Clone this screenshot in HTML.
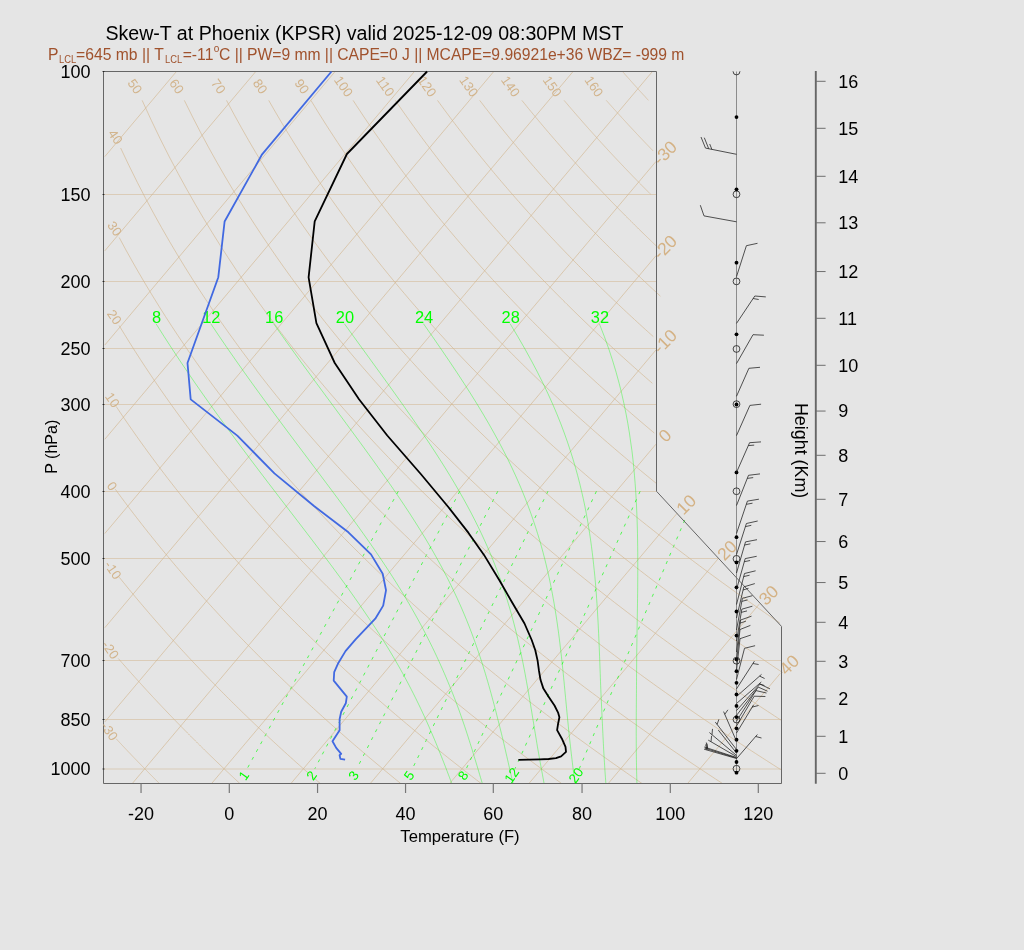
<!DOCTYPE html>
<html><head><meta charset="utf-8"><title>Skew-T</title>
<style>
html,body{margin:0;padding:0;background:#E5E5E5;}
body{width:1024px;height:950px;overflow:hidden;}
svg{display:block;font-family:"Liberation Sans",sans-serif;}
</style></head><body>
<svg width="1024" height="950" viewBox="0 0 1024 950">
<rect width="1024" height="950" fill="#E5E5E5"/>
<line x1="103.50" y1="783.50" x2="781.50" y2="783.50" stroke="#D2B48C" stroke-width="1" stroke-opacity="0.5"/>
<line x1="103.50" y1="769.00" x2="781.50" y2="769.00" stroke="#D2B48C" stroke-width="1" stroke-opacity="0.5"/>
<line x1="103.50" y1="719.50" x2="781.50" y2="719.50" stroke="#D2B48C" stroke-width="1" stroke-opacity="0.5"/>
<line x1="103.50" y1="660.50" x2="781.50" y2="660.50" stroke="#D2B48C" stroke-width="1" stroke-opacity="0.5"/>
<line x1="103.50" y1="558.50" x2="719.00" y2="558.50" stroke="#D2B48C" stroke-width="1" stroke-opacity="0.5"/>
<line x1="103.50" y1="491.50" x2="656.50" y2="491.50" stroke="#D2B48C" stroke-width="1" stroke-opacity="0.5"/>
<line x1="103.50" y1="404.50" x2="656.50" y2="404.50" stroke="#D2B48C" stroke-width="1" stroke-opacity="0.5"/>
<line x1="103.50" y1="348.50" x2="656.50" y2="348.50" stroke="#D2B48C" stroke-width="1" stroke-opacity="0.5"/>
<line x1="103.50" y1="281.50" x2="656.50" y2="281.50" stroke="#D2B48C" stroke-width="1" stroke-opacity="0.5"/>
<line x1="103.50" y1="194.50" x2="656.50" y2="194.50" stroke="#D2B48C" stroke-width="1" stroke-opacity="0.5"/>
<line x1="103.50" y1="71.50" x2="656.50" y2="71.50" stroke="#D2B48C" stroke-width="1" stroke-opacity="0.5"/>
<line x1="104.80" y1="156.62" x2="176.46" y2="71.50" stroke="#D2B48C" stroke-width="0.62" />
<line x1="104.80" y1="250.84" x2="255.79" y2="71.50" stroke="#D2B48C" stroke-width="0.62" />
<line x1="104.80" y1="345.06" x2="335.12" y2="71.50" stroke="#D2B48C" stroke-width="0.62" />
<line x1="104.80" y1="439.28" x2="414.44" y2="71.50" stroke="#D2B48C" stroke-width="0.62" />
<line x1="104.80" y1="533.50" x2="493.77" y2="71.50" stroke="#D2B48C" stroke-width="0.62" />
<line x1="104.80" y1="627.72" x2="573.09" y2="71.50" stroke="#D2B48C" stroke-width="0.62" />
<line x1="104.80" y1="721.94" x2="652.42" y2="71.50" stroke="#D2B48C" stroke-width="0.62" />
<line x1="132.30" y1="783.50" x2="655.97" y2="161.50" stroke="#D2B48C" stroke-width="0.62" />
<line x1="211.62" y1="783.50" x2="655.97" y2="255.72" stroke="#D2B48C" stroke-width="0.62" />
<line x1="290.95" y1="783.50" x2="655.97" y2="349.94" stroke="#D2B48C" stroke-width="0.62" />
<line x1="370.28" y1="783.50" x2="655.97" y2="444.16" stroke="#D2B48C" stroke-width="0.62" />
<line x1="449.60" y1="783.50" x2="677.20" y2="513.17" stroke="#D2B48C" stroke-width="0.62" />
<line x1="528.93" y1="783.50" x2="718.07" y2="558.84" stroke="#D2B48C" stroke-width="0.62" />
<line x1="608.25" y1="783.50" x2="759.56" y2="603.78" stroke="#D2B48C" stroke-width="0.62" />
<line x1="687.58" y1="783.50" x2="780.25" y2="673.43" stroke="#D2B48C" stroke-width="0.62" />
<line x1="684.72" y1="520.13" x2="579.27" y2="768.73" stroke="#00FF00" stroke-width="0.65" stroke-dasharray="3.1 5.8"/>
<line x1="640.13" y1="491.27" x2="514.99" y2="768.73" stroke="#00FF00" stroke-width="0.65" stroke-dasharray="3.1 5.8"/>
<line x1="596.43" y1="491.27" x2="466.27" y2="768.73" stroke="#00FF00" stroke-width="0.65" stroke-dasharray="3.1 5.8"/>
<line x1="547.93" y1="491.27" x2="412.37" y2="768.73" stroke="#00FF00" stroke-width="0.65" stroke-dasharray="3.1 5.8"/>
<line x1="497.78" y1="491.27" x2="356.80" y2="768.73" stroke="#00FF00" stroke-width="0.65" stroke-dasharray="3.1 5.8"/>
<line x1="459.79" y1="491.27" x2="314.83" y2="768.73" stroke="#00FF00" stroke-width="0.65" stroke-dasharray="3.1 5.8"/>
<line x1="398.29" y1="491.27" x2="247.14" y2="768.73" stroke="#00FF00" stroke-width="0.65" stroke-dasharray="3.1 5.8"/>
<polyline points="116.13,738.75 116.51,739.15 116.88,739.56 117.26,739.96 117.63,740.37 118.01,740.77 118.38,741.17 118.76,741.57 119.13,741.97 119.51,742.38 119.88,742.78 120.26,743.18 120.63,743.57 121.00,743.97 121.38,744.37 121.75,744.77 122.12,745.17 122.50,745.56 122.87,745.96 123.24,746.35 123.61,746.75 123.99,747.14 124.36,747.54 124.73,747.93 125.10,748.32 125.47,748.72 125.84,749.11 126.21,749.50 126.58,749.89 126.95,750.28 127.32,750.67 127.69,751.06 128.06,751.45 128.43,751.84 128.80,752.22 129.17,752.61 129.54,753.00 129.91,753.39 130.27,753.77 130.64,754.16 131.01,754.54 131.38,754.93 131.74,755.31 132.11,755.69 132.48,756.08 132.84,756.46 133.21,756.84 133.58,757.22 133.94,757.60 134.31,757.98 134.67,758.36 135.04,758.74 135.41,759.12 135.77,759.50 136.14,759.88 136.50,760.26 136.86,760.63 137.23,761.01 137.59,761.39 137.96,761.76 138.32,762.14 138.68,762.51 139.05,762.89 139.41,763.26 139.77,763.64 140.13,764.01 140.50,764.38 140.86,764.75 141.22,765.12 141.58,765.50 141.94,765.87 142.30,766.24 142.66,766.61 143.02,766.98 143.39,767.35 143.75,767.71 144.11,768.08 144.47,768.45 144.83,768.82 145.18,769.18 145.54,769.55 145.90,769.92 146.26,770.28 146.62,770.65 146.98,771.01 147.34,771.37 147.70,771.74 148.05,772.10 148.41,772.46 148.77,772.83 149.13,773.19 149.48,773.55 149.84,773.91 150.20,774.27 150.55,774.63 150.91,774.99 151.27,775.35 151.62,775.71 151.98,776.07 152.33,776.43 152.69,776.78 153.04,777.14 153.40,777.50 153.75,777.85 154.11,778.21 154.46,778.57 154.82,778.92 155.17,779.28 155.52,779.63 155.88,779.98 156.23,780.34 156.58,780.69 156.94,781.04 157.29,781.40 157.64,781.75 157.99,782.10 158.35,782.45 158.70,782.80 159.05,783.15 159.40,783.50" fill="none" stroke="#D2B48C" stroke-width="0.62" />
<polyline points="118.31,658.50 119.44,659.80 120.56,661.09 121.69,662.38 122.81,663.66 123.92,664.93 125.04,666.20 126.16,667.47 127.27,668.73 128.38,669.98 129.49,671.23 130.59,672.48 131.70,673.72 132.80,674.95 133.90,676.18 135.00,677.40 136.09,678.62 137.19,679.84 138.28,681.05 139.37,682.25 140.46,683.45 141.54,684.65 142.63,685.84 143.71,687.02 144.79,688.20 145.87,689.38 146.95,690.55 148.02,691.72 149.10,692.88 150.17,694.04 151.24,695.20 152.30,696.35 153.37,697.49 154.43,698.63 155.50,699.77 156.56,700.90 157.61,702.03 158.67,703.15 159.73,704.27 160.78,705.39 161.83,706.50 162.88,707.61 163.93,708.71 164.97,709.81 166.02,710.91 167.06,712.00 168.10,713.09 169.14,714.17 170.18,715.25 171.21,716.33 172.25,717.40 173.28,718.47 174.31,719.54 175.34,720.60 176.37,721.65 177.39,722.71 178.42,723.76 179.44,724.80 180.46,725.85 181.48,726.89 182.50,727.92 183.51,728.95 184.53,729.98 185.54,731.01 186.55,732.03 187.56,733.05 188.57,734.06 189.57,735.08 190.58,736.08 191.58,737.09 192.58,738.09 193.58,739.09 194.58,740.08 195.57,741.07 196.57,742.06 197.56,743.05 198.56,744.03 199.55,745.01 200.53,745.98 201.52,746.96 202.51,747.93 203.49,748.89 204.48,749.86 205.46,750.82 206.44,751.77 207.42,752.73 208.39,753.68 209.37,754.63 210.34,755.57 211.31,756.51 212.29,757.45 213.26,758.39 214.22,759.32 215.19,760.25 216.16,761.18 217.12,762.11 218.08,763.03 219.04,763.95 220.00,764.87 220.96,765.78 221.92,766.69 222.87,767.60 223.83,768.50 224.78,769.41 225.73,770.31 226.68,771.21 227.63,772.10 228.58,772.99 229.53,773.88 230.47,774.77 231.41,775.65 232.35,776.54 233.30,777.42 234.23,778.29 235.17,779.17 236.11,780.04 237.04,780.91 237.98,781.77 238.91,782.64 239.84,783.50" fill="none" stroke="#D2B48C" stroke-width="0.62" />
<polyline points="119.28,577.30 121.28,579.77 123.26,582.23 125.24,584.66 127.21,587.07 129.18,589.47 131.14,591.84 133.09,594.20 135.03,596.54 136.97,598.86 138.91,601.16 140.84,603.45 142.76,605.72 144.67,607.97 146.58,610.21 148.48,612.43 150.38,614.63 152.27,616.82 154.15,618.99 156.03,621.14 157.91,623.28 159.77,625.41 161.63,627.52 163.49,629.62 165.34,631.70 167.18,633.77 169.02,635.82 170.86,637.86 172.68,639.89 174.51,641.90 176.32,643.90 178.13,645.88 179.94,647.86 181.74,649.82 183.54,651.77 185.33,653.70 187.11,655.62 188.89,657.54 190.67,659.43 192.44,661.32 194.20,663.20 195.96,665.06 197.72,666.91 199.47,668.75 201.21,670.59 202.95,672.40 204.69,674.21 206.42,676.01 208.15,677.80 209.87,679.57 211.59,681.34 213.30,683.10 215.00,684.84 216.71,686.58 218.41,688.30 220.10,690.02 221.79,691.73 223.47,693.42 225.15,695.11 226.83,696.79 228.50,698.46 230.17,700.12 231.83,701.77 233.49,703.41 235.14,705.04 236.79,706.67 238.44,708.28 240.08,709.89 241.72,711.49 243.35,713.08 244.98,714.66 246.61,716.23 248.23,717.80 249.85,719.35 251.46,720.90 253.07,722.44 254.67,723.98 256.27,725.50 257.87,727.02 259.47,728.53 261.06,730.03 262.64,731.53 264.22,733.02 265.80,734.50 267.38,735.97 268.95,737.44 270.51,738.90 272.08,740.35 273.64,741.80 275.19,743.24 276.75,744.67 278.29,746.09 279.84,747.51 281.38,748.93 282.92,750.33 284.45,751.73 285.99,753.12 287.51,754.51 289.04,755.89 290.56,757.26 292.08,758.63 293.59,759.99 295.10,761.35 296.61,762.69 298.11,764.04 299.61,765.37 301.11,766.71 302.60,768.03 304.09,769.35 305.58,770.66 307.07,771.97 308.55,773.28 310.03,774.57 311.50,775.86 312.97,777.15 314.44,778.43 315.91,779.71 317.37,780.98 318.83,782.24 320.28,783.50" fill="none" stroke="#D2B48C" stroke-width="0.62" />
<polyline points="115.35,489.30 118.39,493.45 121.41,497.54 124.43,501.58 127.42,505.57 130.40,509.50 133.36,513.39 136.31,517.22 139.25,521.01 142.16,524.75 145.07,528.44 147.96,532.09 150.84,535.70 153.70,539.26 156.55,542.79 159.38,546.27 162.20,549.71 165.01,553.11 167.80,556.48 170.58,559.81 173.35,563.10 176.11,566.36 178.85,569.58 181.58,572.77 184.30,575.92 187.00,579.05 189.70,582.14 192.38,585.20 195.05,588.23 197.71,591.23 200.35,594.19 202.99,597.14 205.61,600.05 208.23,602.93 210.83,605.79 213.42,608.62 216.00,611.43 218.57,614.20 221.12,616.96 223.67,619.69 226.21,622.39 228.74,625.07 231.25,627.73 233.76,630.36 236.26,632.97 238.74,635.56 241.22,638.13 243.69,640.67 246.14,643.20 248.59,645.70 251.03,648.18 253.46,650.65 255.88,653.09 258.29,655.51 260.69,657.92 263.09,660.30 265.47,662.67 267.85,665.02 270.21,667.35 272.57,669.66 274.92,671.95 277.26,674.23 279.59,676.49 281.92,678.73 284.23,680.96 286.54,683.17 288.84,685.37 291.13,687.55 293.41,689.71 295.69,691.86 297.96,693.99 300.22,696.11 302.47,698.21 304.71,700.30 306.95,702.37 309.18,704.43 311.40,706.48 313.62,708.51 315.83,710.53 318.03,712.54 320.22,714.53 322.41,716.51 324.59,718.48 326.76,720.43 328.92,722.37 331.08,724.30 333.23,726.22 335.38,728.12 337.51,730.02 339.65,731.90 341.77,733.77 343.89,735.63 346.00,737.47 348.10,739.31 350.20,741.13 352.30,742.95 354.38,744.75 356.46,746.54 358.53,748.32 360.60,750.09 362.66,751.85 364.72,753.60 366.77,755.35 368.81,757.08 370.85,758.80 372.88,760.51 374.91,762.21 376.92,763.90 378.94,765.58 380.95,767.26 382.95,768.92 384.95,770.58 386.94,772.22 388.92,773.86 390.90,775.49 392.88,777.11 394.85,778.72 396.81,780.32 398.77,781.91 400.72,783.50" fill="none" stroke="#D2B48C" stroke-width="0.62" />
<polyline points="116.15,406.40 120.32,412.63 124.45,418.74 128.56,424.72 132.65,430.59 136.70,436.35 140.72,442.00 144.72,447.54 148.68,452.99 152.62,458.34 156.54,463.60 160.43,468.77 164.29,473.85 168.12,478.84 171.93,483.76 175.72,488.60 179.48,493.36 183.22,498.05 186.93,502.66 190.62,507.21 194.29,511.69 197.94,516.10 201.56,520.46 205.16,524.74 208.74,528.97 212.30,533.15 215.83,537.26 219.35,541.32 222.85,545.32 226.32,549.28 229.78,553.18 233.22,557.03 236.63,560.84 240.03,564.59 243.41,568.31 246.77,571.97 250.11,575.59 253.44,579.17 256.74,582.71 260.03,586.21 263.31,589.66 266.56,593.08 269.80,596.46 273.02,599.80 276.23,603.11 279.41,606.38 282.59,609.62 285.74,612.82 288.89,615.98 292.01,619.12 295.12,622.22 298.22,625.29 301.30,628.33 304.37,631.34 307.42,634.32 310.46,637.27 313.48,640.20 316.49,643.09 319.49,645.96 322.47,648.80 325.44,651.62 328.39,654.40 331.34,657.17 334.26,659.90 337.18,662.62 340.08,665.31 342.98,667.97 345.85,670.61 348.72,673.23 351.57,675.83 354.42,678.41 357.25,680.96 360.06,683.49 362.87,686.00 365.67,688.49 368.45,690.96 371.22,693.41 373.98,695.84 376.73,698.25 379.47,700.65 382.20,703.02 384.92,705.37 387.63,707.71 390.32,710.03 393.01,712.33 395.68,714.61 398.35,716.88 401.00,719.13 403.65,721.36 406.29,723.58 408.91,725.78 411.53,727.96 414.13,730.13 416.73,732.29 419.32,734.43 421.90,736.55 424.46,738.66 427.02,740.75 429.57,742.83 432.12,744.90 434.65,746.95 437.17,748.99 439.69,751.01 442.19,753.02 444.69,755.02 447.18,757.00 449.66,758.98 452.13,760.93 454.59,762.88 457.05,764.81 459.50,766.74 461.94,768.64 464.37,770.54 466.79,772.43 469.21,774.30 471.61,776.16 474.01,778.01 476.40,779.85 478.79,781.68 481.16,783.50" fill="none" stroke="#D2B48C" stroke-width="0.62" />
<polyline points="119.10,325.50 124.51,334.37 129.86,342.99 135.17,351.37 140.42,359.53 145.63,367.47 150.80,375.21 155.91,382.75 160.98,390.11 166.01,397.30 170.99,404.32 175.93,411.18 180.83,417.89 185.69,424.46 190.50,430.88 195.28,437.17 200.02,443.34 204.72,449.38 209.38,455.30 214.00,461.11 218.59,466.81 223.14,472.40 227.66,477.89 232.15,483.29 236.60,488.59 241.01,493.80 245.40,498.92 249.75,503.95 254.07,508.91 258.36,513.78 262.62,518.58 266.86,523.30 271.06,527.95 275.23,532.53 279.38,537.04 283.49,541.48 287.59,545.86 291.65,550.18 295.69,554.44 299.70,558.63 303.68,562.77 307.65,566.86 311.58,570.89 315.49,574.87 319.38,578.79 323.25,582.67 327.09,586.49 330.91,590.27 334.70,594.00 338.48,597.69 342.23,601.33 345.96,604.93 349.67,608.49 353.36,612.01 357.02,615.48 360.67,618.92 364.30,622.31 367.91,625.67 371.49,629.00 375.06,632.28 378.61,635.53 382.14,638.75 385.66,641.93 389.15,645.08 392.63,648.20 396.09,651.29 399.53,654.34 402.95,657.37 406.36,660.36 409.75,663.32 413.13,666.26 416.48,669.17 419.82,672.05 423.15,674.90 426.46,677.73 429.75,680.53 433.03,683.30 436.29,686.05 439.54,688.78 442.78,691.48 445.99,694.15 449.20,696.81 452.39,699.44 455.56,702.04 458.73,704.63 461.87,707.19 465.01,709.73 468.13,712.26 471.23,714.76 474.33,717.23 477.41,719.69 480.48,722.13 483.53,724.55 486.57,726.95 489.60,729.34 492.62,731.70 495.62,734.04 498.62,736.37 501.60,738.68 504.56,740.97 507.52,743.25 510.47,745.50 513.40,747.74 516.32,749.97 519.23,752.18 522.13,754.37 525.02,756.54 527.90,758.71 530.76,760.85 533.62,762.98 536.46,765.10 539.30,767.20 542.12,769.28 544.94,771.36 547.74,773.41 550.53,775.46 553.32,777.49 556.09,779.51 558.85,781.51 561.60,783.50" fill="none" stroke="#D2B48C" stroke-width="0.62" />
<polyline points="119.19,237.50 126.03,250.13 132.79,262.26 139.48,273.91 146.09,285.14 152.63,295.96 159.10,306.41 165.49,316.52 171.81,326.29 178.06,335.76 184.25,344.95 190.37,353.86 196.42,362.52 202.42,370.93 208.35,379.12 214.21,387.10 220.02,394.87 225.78,402.44 231.47,409.83 237.11,417.04 242.70,424.09 248.23,430.98 253.72,437.71 259.15,444.29 264.53,450.74 269.87,457.05 275.15,463.23 280.39,469.29 285.59,475.23 290.74,481.06 295.85,486.78 300.92,492.39 305.94,497.89 310.92,503.30 315.87,508.62 320.77,513.84 325.64,518.98 330.47,524.02 335.26,528.99 340.01,533.88 344.73,538.68 349.42,543.42 354.07,548.08 358.69,552.67 363.27,557.19 367.83,561.64 372.35,566.03 376.84,570.36 381.29,574.63 385.72,578.83 390.12,582.98 394.49,587.08 398.83,591.11 403.15,595.10 407.43,599.03 411.69,602.92 415.92,606.75 420.13,610.54 424.31,614.28 428.46,617.97 432.59,621.62 436.69,625.23 440.77,628.79 444.83,632.31 448.86,635.79 452.87,639.23 456.86,642.64 460.82,646.00 464.76,649.33 468.68,652.62 472.58,655.88 476.45,659.10 480.31,662.29 484.14,665.44 487.95,668.57 491.75,671.66 495.52,674.72 499.27,677.75 503.01,680.74 506.72,683.71 510.42,686.65 514.10,689.57 517.76,692.45 521.40,695.31 525.02,698.14 528.63,700.94 532.22,703.72 535.79,706.48 539.34,709.20 542.88,711.91 546.40,714.59 549.90,717.24 553.39,719.88 556.86,722.49 560.32,725.08 563.76,727.64 567.18,730.19 570.59,732.71 573.99,735.22 577.36,737.70 580.73,740.16 584.08,742.60 587.41,745.03 590.74,747.43 594.04,749.81 597.33,752.18 600.61,754.53 603.88,756.86 607.13,759.17 610.37,761.46 613.59,763.74 616.81,766.00 620.01,768.25 623.19,770.47 626.36,772.68 629.53,774.88 632.67,777.06 635.81,779.22 638.93,781.37 642.05,783.50" fill="none" stroke="#D2B48C" stroke-width="0.62" />
<polyline points="120.65,148.00 129.04,165.68 137.33,182.39 145.51,198.22 153.59,213.27 161.56,227.60 169.42,241.28 177.18,254.38 184.84,266.93 192.39,278.98 199.85,290.57 207.21,301.73 214.48,312.50 221.66,322.89 228.75,332.94 235.75,342.67 242.67,352.10 249.51,361.24 256.26,370.11 262.94,378.73 269.55,387.11 276.08,395.27 282.53,403.21 288.92,410.95 295.24,418.49 301.49,425.86 307.68,433.04 313.81,440.07 319.87,446.93 325.88,453.64 331.82,460.20 337.71,466.63 343.55,472.92 349.33,479.08 355.05,485.12 360.73,491.05 366.35,496.85 371.92,502.55 377.45,508.15 382.92,513.64 388.35,519.03 393.74,524.34 399.08,529.54 404.38,534.67 409.63,539.70 414.85,544.66 420.02,549.53 425.15,554.33 430.24,559.05 435.30,563.70 440.31,568.28 445.29,572.79 450.23,577.23 455.14,581.61 460.01,585.93 464.85,590.19 469.65,594.38 474.42,598.52 479.16,602.61 483.87,606.64 488.54,610.62 493.18,614.54 497.80,618.42 502.38,622.25 506.93,626.02 511.45,629.76 515.95,633.44 520.42,637.09 524.86,640.69 529.27,644.24 533.66,647.76 538.02,651.23 542.35,654.67 546.66,658.07 550.94,661.43 555.20,664.75 559.43,668.04 563.64,671.29 567.83,674.50 571.99,677.69 576.13,680.84 580.25,683.96 584.34,687.04 588.42,690.10 592.47,693.12 596.50,696.11 600.50,699.08 604.49,702.01 608.46,704.92 612.40,707.80 616.33,710.66 620.24,713.48 624.12,716.28 627.99,719.06 631.84,721.81 635.67,724.53 639.48,727.23 643.27,729.91 647.05,732.56 650.81,735.19 654.54,737.80 658.27,740.39 661.97,742.95 665.66,745.49 669.33,748.01 672.98,750.51 676.62,752.99 680.24,755.45 683.84,757.89 687.43,760.31 691.01,762.71 694.56,765.09 698.11,767.45 701.63,769.80 705.15,772.13 708.64,774.44 712.13,776.73 715.59,779.00 719.05,781.26 722.49,783.50" fill="none" stroke="#D2B48C" stroke-width="0.62" />
<polyline points="142.15,100.36 151.30,120.34 160.34,139.09 169.26,156.74 178.05,173.42 186.72,189.23 195.26,204.25 203.68,218.57 211.98,232.23 220.17,245.31 228.24,257.85 236.19,269.89 244.04,281.46 251.78,292.61 259.42,303.37 266.96,313.75 274.40,323.79 281.74,333.51 289.00,342.93 296.16,352.06 303.24,360.93 310.24,369.54 317.15,377.92 323.98,386.07 330.74,394.00 337.41,401.73 344.02,409.28 350.56,416.63 357.02,423.82 363.42,430.83 369.75,437.69 376.02,444.39 382.23,450.95 388.37,457.38 394.46,463.66 400.48,469.82 406.45,475.86 412.37,481.78 418.23,487.59 424.04,493.28 429.79,498.87 435.50,504.36 441.16,509.75 446.77,515.05 452.33,520.26 457.84,525.38 463.31,530.41 468.74,535.36 474.12,540.23 479.46,545.03 484.76,549.75 490.01,554.40 495.23,558.97 500.41,563.48 505.55,567.92 510.65,572.30 515.71,576.62 520.74,580.87 525.73,585.07 530.69,589.21 535.61,593.29 540.50,597.32 545.36,601.30 550.18,605.22 554.97,609.10 559.73,612.92 564.46,616.70 569.16,620.43 573.83,624.12 578.46,627.76 583.07,631.36 587.65,634.91 592.21,638.43 596.73,641.90 601.23,645.33 605.70,648.73 610.14,652.09 614.56,655.41 618.95,658.70 623.32,661.95 627.66,665.16 631.98,668.35 636.28,671.49 640.55,674.61 644.79,677.70 649.02,680.75 653.22,683.77 657.39,686.77 661.55,689.73 665.68,692.67 669.80,695.57 673.89,698.45 677.96,701.30 682.01,704.13 686.03,706.93 690.04,709.70 694.03,712.45 698.00,715.18 701.95,717.88 705.88,720.55 709.79,723.20 713.68,725.83 717.56,728.44 721.41,731.03 725.25,733.59 729.07,736.13 732.87,738.65 736.65,741.15 740.42,743.63 744.17,746.09 747.91,748.52 751.62,750.94 755.32,753.34 759.01,755.73 762.67,758.09 766.33,760.43 769.96,762.76 773.58,765.07 777.19,767.36 780.78,769.63" fill="none" stroke="#D2B48C" stroke-width="0.62" />
<polyline points="184.34,100.36 192.63,117.06 200.81,132.88 208.88,147.91 216.85,162.24 224.71,175.92 232.47,189.01 240.13,201.55 247.68,213.60 255.14,225.18 262.50,236.34 269.77,247.10 276.95,257.49 284.04,267.54 291.04,277.26 297.96,286.68 304.79,295.82 311.55,304.69 318.23,313.31 324.83,321.69 331.36,329.84 337.81,337.78 344.20,345.51 350.52,353.06 356.77,360.42 362.96,367.60 369.09,374.62 375.15,381.48 381.16,388.19 387.10,394.75 392.99,401.18 398.82,407.47 404.60,413.63 410.33,419.67 416.00,425.59 421.62,431.40 427.20,437.10 432.72,442.69 438.20,448.18 443.63,453.57 449.01,458.87 454.35,464.08 459.65,469.20 464.91,474.24 470.12,479.19 475.29,484.06 480.42,488.86 485.51,493.58 490.57,498.23 495.58,502.81 500.56,507.32 505.50,511.76 510.41,516.14 515.28,520.46 520.12,524.71 524.92,528.91 529.69,533.05 534.43,537.13 539.14,541.16 543.81,545.14 548.45,549.07 553.06,552.94 557.65,556.77 562.20,560.55 566.72,564.28 571.22,567.96 575.69,571.61 580.13,575.20 584.54,578.76 588.92,582.28 593.28,585.75 597.62,589.19 601.92,592.58 606.21,595.94 610.47,599.26 614.70,602.55 618.91,605.80 623.10,609.02 627.26,612.20 631.40,615.35 635.51,618.47 639.61,621.55 643.68,624.61 647.73,627.63 651.76,630.63 655.77,633.59 659.76,636.53 663.72,639.43 667.67,642.31 671.60,645.17 675.50,647.99 679.39,650.79 683.26,653.57 687.11,656.32 690.93,659.04 694.75,661.74 698.54,664.42 702.31,667.07 706.07,669.70 709.81,672.31 713.53,674.89 717.23,677.45 720.92,680.00 724.59,682.52 728.25,685.02 731.88,687.50 735.50,689.95 739.11,692.39 742.70,694.81 746.27,697.21 749.83,699.60 753.37,701.96 756.90,704.30 760.41,706.63 763.91,708.94 767.39,711.23 770.86,713.50 774.31,715.76 777.75,718.00 781.17,720.23" fill="none" stroke="#D2B48C" stroke-width="0.62" />
<polyline points="226.53,100.36 234.00,114.33 241.38,127.68 248.67,140.47 255.87,152.74 262.98,164.53 270.00,175.88 276.94,186.82 283.80,197.38 290.58,207.58 297.27,217.45 303.89,227.01 310.44,236.28 316.91,245.27 323.30,254.00 329.63,262.49 335.89,270.74 342.08,278.78 348.21,286.61 354.27,294.24 360.27,301.68 366.22,308.95 372.10,316.04 377.92,322.98 383.69,329.75 389.40,336.38 395.06,342.87 400.67,349.22 406.22,355.44 411.73,361.53 417.18,367.51 422.59,373.37 427.95,379.12 433.27,384.76 438.54,390.29 443.77,395.73 448.95,401.08 454.09,406.33 459.19,411.49 464.25,416.56 469.27,421.55 474.25,426.46 479.19,431.29 484.10,436.04 488.97,440.73 493.80,445.34 498.60,449.88 503.36,454.35 508.09,458.76 512.79,463.11 517.45,467.39 522.08,471.61 526.68,475.78 531.25,479.89 535.78,483.94 540.29,487.95 544.77,491.89 549.22,495.79 553.64,499.64 558.03,503.44 562.39,507.19 566.73,510.90 571.04,514.56 575.32,518.18 579.58,521.76 583.81,525.29 588.02,528.79 592.20,532.24 596.36,535.65 600.50,539.03 604.61,542.37 608.69,545.67 612.76,548.94 616.80,552.17 620.82,555.37 624.82,558.53 628.79,561.67 632.74,564.77 636.68,567.84 640.59,570.87 644.48,573.88 648.35,576.86 652.20,579.81 656.03,582.73 659.85,585.62 663.64,588.49 667.41,591.32 671.17,594.14 674.90,596.92 678.62,599.68 682.32,602.42 686.01,605.13 689.67,607.82 693.32,610.48 696.95,613.12 700.56,615.74 704.16,618.33 707.74,620.91 711.30,623.46 714.85,625.99 718.38,628.50 721.90,630.99 725.40,633.45 728.88,635.90 732.35,638.33 735.81,640.74 739.25,643.13 742.67,645.50 746.08,647.86 749.48,650.19 752.86,652.51 756.23,654.81 759.58,657.09 762.92,659.35 766.24,661.60 769.56,663.83 772.85,666.05 776.14,668.25 779.41,670.43 782.67,672.60" fill="none" stroke="#D2B48C" stroke-width="0.62" />
<polyline points="268.73,100.36 275.34,111.89 281.87,122.99 288.33,133.71 294.72,144.05 301.04,154.06 307.30,163.74 313.48,173.13 319.60,182.23 325.65,191.07 331.64,199.66 337.57,208.01 343.44,216.13 349.25,224.04 355.00,231.76 360.69,239.28 366.33,246.61 371.91,253.78 377.44,260.78 382.92,267.62 388.35,274.31 393.73,280.85 399.06,287.26 404.35,293.53 409.58,299.68 414.78,305.70 419.92,311.61 425.03,317.40 430.09,323.09 435.11,328.67 440.09,334.14 445.03,339.53 449.93,344.81 454.79,350.01 459.61,355.12 464.40,360.14 469.15,365.09 473.86,369.95 478.54,374.74 483.19,379.45 487.80,384.09 492.38,388.66 496.92,393.16 501.44,397.59 505.92,401.97 510.37,406.27 514.79,410.52 519.19,414.71 523.55,418.85 527.88,422.92 532.19,426.95 536.47,430.92 540.72,434.84 544.94,438.70 549.14,442.52 553.31,446.30 557.46,450.02 561.58,453.70 565.68,457.34 569.75,460.93 573.80,464.49 577.82,468.00 581.82,471.46 585.80,474.90 589.76,478.29 593.69,481.64 597.60,484.96 601.49,488.24 605.36,491.49 609.20,494.70 613.03,497.88 616.83,501.02 620.62,504.14 624.39,507.22 628.13,510.27 631.86,513.29 635.56,516.28 639.25,519.24 642.92,522.17 646.57,525.08 650.21,527.95 653.82,530.80 657.42,533.63 661.00,536.42 664.56,539.19 668.11,541.94 671.63,544.66 675.15,547.36 678.64,550.03 682.12,552.68 685.58,555.31 689.03,557.91 692.46,560.49 695.88,563.06 699.28,565.59 702.67,568.11 706.04,570.61 709.39,573.09 712.73,575.54 716.06,577.98 719.37,580.40 722.67,582.79 725.96,585.17 729.23,587.53 732.48,589.88 735.73,592.20 738.96,594.51 742.17,596.80 745.38,599.07 748.57,601.32 751.74,603.56 754.91,605.78 758.06,607.99 761.20,610.18 764.33,612.35 767.44,614.51 770.55,616.66 773.64,618.79 776.72,620.90 779.78,623.00" fill="none" stroke="#D2B48C" stroke-width="0.62" />
<polyline points="310.92,100.36 314.83,106.77 318.71,113.04 322.57,119.19 326.40,125.22 330.20,131.13 333.98,136.92 337.73,142.61 341.46,148.19 345.17,153.67 348.85,159.06 352.51,164.34 356.15,169.54 359.76,174.65 363.35,179.68 366.92,184.62 370.46,189.49 373.98,194.28 377.49,198.99 380.97,203.63 384.43,208.20 387.87,212.70 391.29,217.14 394.69,221.51 398.07,225.82 401.43,230.07 404.77,234.26 408.09,238.40 411.39,242.48 414.68,246.50 417.95,250.47 421.20,254.39 424.43,258.26 427.64,262.08 430.84,265.85 434.02,269.58 437.18,273.26 440.33,276.90 443.46,280.49 446.57,284.05 449.67,287.56 452.75,291.03 455.82,294.46 458.87,297.85 461.90,301.21 464.93,304.52 467.93,307.81 470.92,311.05 473.90,314.27 476.86,317.45 479.81,320.59 482.75,323.71 485.67,326.79 488.58,329.84 491.47,332.86 494.35,335.85 497.22,338.81 500.07,341.74 502.92,344.65 505.75,347.53 508.56,350.38 511.37,353.20 514.16,356.00 516.94,358.77 519.71,361.51 522.46,364.24 525.21,366.93 527.94,369.61 530.66,372.26 533.37,374.89 536.07,377.49 538.76,380.07 541.43,382.63 544.10,385.17 546.75,387.69 549.40,390.19 552.03,392.67 554.66,395.12 557.27,397.56 559.87,399.98 562.46,402.38 565.05,404.75 567.62,407.12 570.18,409.46 572.73,411.78 575.28,414.09 577.81,416.38 580.34,418.65 582.85,420.91 585.36,423.15 587.85,425.37 590.34,427.58 592.82,429.77 595.29,431.94 597.75,434.10 600.20,436.24 602.64,438.37 605.08,440.49 607.50,442.58 609.92,444.67 612.33,446.74 614.73,448.80 617.12,450.84 619.51,452.87 621.88,454.88 624.25,456.88 626.61,458.87 628.96,460.85 631.31,462.81 633.64,464.76 635.97,466.70 638.29,468.63 640.61,470.54 642.92,472.44 645.21,474.33 647.51,476.21 649.79,478.07 652.07,479.93 654.34,481.77 656.60,483.61" fill="none" stroke="#D2B48C" stroke-width="0.62" />
<polyline points="353.12,100.36 356.39,105.41 359.65,110.37 362.88,115.25 366.10,120.06 369.30,124.79 372.49,129.45 375.65,134.04 378.80,138.56 381.93,143.01 385.04,147.40 388.14,151.73 391.22,155.99 394.29,160.20 397.33,164.34 400.37,168.44 403.38,172.47 406.38,176.46 409.37,180.39 412.34,184.27 415.29,188.11 418.23,191.89 421.15,195.63 424.06,199.32 426.96,202.97 429.84,206.58 432.71,210.14 435.56,213.66 438.40,217.14 441.23,220.58 444.04,223.98 446.84,227.35 449.63,230.67 452.40,233.97 455.16,237.22 457.91,240.44 460.64,243.63 463.37,246.78 466.08,249.91 468.78,253.00 471.46,256.05 474.14,259.08 476.80,262.08 479.45,265.05 482.09,267.99 484.72,270.90 487.33,273.78 489.94,276.64 492.54,279.47 495.12,282.28 497.69,285.05 500.26,287.81 502.81,290.53 505.35,293.24 507.88,295.92 510.40,298.57 512.91,301.21 515.41,303.82 517.90,306.41 520.39,308.97 522.86,311.52 525.32,314.04 527.77,316.54 530.21,319.02 532.65,321.49 535.07,323.93 537.49,326.35 539.89,328.75 542.29,331.14 544.68,333.50 547.06,335.85 549.43,338.18 551.79,340.49 554.14,342.78 556.49,345.06 558.82,347.32 561.15,349.56 563.47,351.79 565.78,354.00 568.09,356.20 570.38,358.37 572.67,360.54 574.95,362.68 577.22,364.82 579.48,366.93 581.74,369.04 583.99,371.13 586.23,373.20 588.46,375.26 590.69,377.30 592.91,379.34 595.12,381.36 597.32,383.36 599.52,385.35 601.71,387.33 603.89,389.30 606.07,391.25 608.23,393.19 610.40,395.12 612.55,397.04 614.70,398.94 616.84,400.84 618.97,402.72 621.10,404.59 623.22,406.44 625.34,408.29 627.45,410.12 629.55,411.95 631.64,413.76 633.73,415.56 635.82,417.36 637.89,419.14 639.96,420.91 642.03,422.67 644.09,424.42 646.14,426.16 648.19,427.89 650.23,429.61 652.26,431.32 654.29,433.02" fill="none" stroke="#D2B48C" stroke-width="0.62" />
<polyline points="395.31,100.36 398.00,104.27 400.67,108.12 403.34,111.93 405.99,115.70 408.63,119.41 411.25,123.08 413.87,126.71 416.47,130.29 419.06,133.83 421.64,137.33 424.20,140.79 426.76,144.22 429.31,147.60 431.84,150.94 434.36,154.25 436.87,157.53 439.37,160.77 441.86,163.97 444.34,167.14 446.81,170.28 449.27,173.38 451.72,176.46 454.16,179.50 456.59,182.51 459.01,185.50 461.41,188.45 463.81,191.38 466.20,194.28 468.58,197.15 470.95,199.99 473.31,202.81 475.66,205.60 478.00,208.36 480.34,211.10 482.66,213.82 484.97,216.51 487.28,219.18 489.58,221.82 491.86,224.44 494.14,227.04 496.41,229.62 498.68,232.18 500.93,234.71 503.18,237.22 505.41,239.71 507.64,242.19 509.87,244.64 512.08,247.07 514.28,249.48 516.48,251.88 518.67,254.25 520.85,256.61 523.03,258.95 525.19,261.27 527.35,263.57 529.50,265.85 531.65,268.12 533.79,270.37 535.91,272.61 538.04,274.83 540.15,277.03 542.26,279.22 544.36,281.39 546.46,283.54 548.54,285.68 550.62,287.81 552.70,289.92 554.76,292.01 556.82,294.09 558.88,296.16 560.92,298.21 562.96,300.25 565.00,302.28 567.02,304.29 569.05,306.29 571.06,308.27 573.07,310.25 575.07,312.21 577.07,314.15 579.06,316.09 581.04,318.01 583.02,319.92 584.99,321.82 586.96,323.71 588.92,325.58 590.87,327.44 592.82,329.30 594.76,331.14 596.70,332.97 598.63,334.79 600.55,336.59 602.47,338.39 604.39,340.18 606.30,341.95 608.20,343.72 610.10,345.47 611.99,347.22 613.88,348.95 615.76,350.68 617.64,352.40 619.51,354.10 621.37,355.80 623.24,357.48 625.09,359.16 626.94,360.83 628.79,362.49 630.63,364.14 632.46,365.78 634.30,367.41 636.12,369.04 637.94,370.65 639.76,372.26 641.57,373.86 643.38,375.45 645.18,377.03 646.98,378.60 648.77,380.16 650.56,381.72 652.34,383.27" fill="none" stroke="#D2B48C" stroke-width="0.62" />
<polyline points="437.51,100.36 439.68,103.35 441.85,106.32 444.01,109.25 446.16,112.16 448.30,115.03 450.44,117.89 452.57,120.71 454.69,123.51 456.80,126.28 458.90,129.03 461.00,131.75 463.09,134.45 465.17,137.13 467.25,139.78 469.31,142.41 471.37,145.01 473.42,147.60 475.47,150.16 477.51,152.70 479.54,155.22 481.56,157.72 483.58,160.20 485.59,162.65 487.60,165.09 489.59,167.51 491.58,169.91 493.57,172.29 495.54,174.65 497.51,177.00 499.48,179.32 501.43,181.63 503.39,183.92 505.33,186.20 507.27,188.45 509.20,190.69 511.13,192.92 513.05,195.12 514.96,197.31 516.87,199.49 518.77,201.65 520.67,203.79 522.56,205.92 524.44,208.04 526.32,210.14 528.19,212.22 530.06,214.29 531.92,216.35 533.77,218.40 535.62,220.42 537.47,222.44 539.31,224.44 541.14,226.43 542.97,228.41 544.79,230.37 546.61,232.32 548.42,234.26 550.22,236.19 552.02,238.10 553.82,240.01 555.61,241.90 557.40,243.77 559.18,245.64 560.95,247.50 562.72,249.34 564.49,251.17 566.25,253.00 568.01,254.81 569.76,256.61 571.50,258.40 573.24,260.18 574.98,261.95 576.71,263.70 578.44,265.45 580.16,267.19 581.88,268.92 583.59,270.64 585.30,272.35 587.01,274.05 588.70,275.74 590.40,277.42 592.09,279.09 593.78,280.75 595.46,282.40 597.14,284.05 598.81,285.68 600.48,287.31 602.14,288.93 603.80,290.53 605.46,292.13 607.11,293.73 608.76,295.31 610.40,296.89 612.04,298.45 613.67,300.01 615.31,301.56 616.93,303.11 618.56,304.64 620.17,306.17 621.79,307.69 623.40,309.20 625.01,310.71 626.61,312.21 628.21,313.70 629.81,315.18 631.40,316.65 632.99,318.12 634.57,319.58 636.15,321.04 637.73,322.49 639.30,323.93 640.87,325.36 642.44,326.79 644.00,328.21 645.56,329.62 647.11,331.03 648.66,332.43 650.21,333.82 651.75,335.21 653.30,336.59" fill="none" stroke="#D2B48C" stroke-width="0.62" />
<polyline points="479.70,100.36 481.47,102.66 483.23,104.95 484.98,107.22 486.73,109.47 488.48,111.71 490.22,113.93 491.95,116.13 493.68,118.32 495.41,120.49 497.13,122.65 498.84,124.79 500.55,126.92 502.26,129.03 503.96,131.13 505.65,133.21 507.34,135.28 509.02,137.33 510.70,139.37 512.38,141.40 514.05,143.41 515.72,145.41 517.38,147.40 519.04,149.37 520.69,151.34 522.34,153.28 523.98,155.22 525.62,157.14 527.25,159.06 528.88,160.96 530.51,162.84 532.13,164.72 533.74,166.58 535.36,168.44 536.96,170.28 538.57,172.11 540.17,173.93 541.76,175.74 543.35,177.54 544.94,179.32 546.52,181.10 548.10,182.87 549.67,184.62 551.24,186.37 552.81,188.11 554.37,189.83 555.93,191.55 557.49,193.26 559.04,194.95 560.58,196.64 562.13,198.32 563.67,199.99 565.20,201.65 566.73,203.30 568.26,204.94 569.78,206.58 571.30,208.20 572.82,209.82 574.33,211.42 575.84,213.02 577.35,214.61 578.85,216.19 580.35,217.77 581.84,219.33 583.33,220.89 584.82,222.44 586.30,223.98 587.78,225.52 589.26,227.04 590.73,228.56 592.20,230.07 593.67,231.58 595.13,233.07 596.59,234.56 598.05,236.04 599.50,237.52 600.95,238.98 602.40,240.44 603.84,241.90 605.28,243.34 606.72,244.78 608.15,246.21 609.58,247.64 611.01,249.06 612.43,250.47 613.85,251.88 615.27,253.28 616.69,254.67 618.10,256.05 619.51,257.44 620.91,258.81 622.31,260.18 623.71,261.54 625.11,262.89 626.50,264.24 627.89,265.59 629.28,266.92 630.66,268.26 632.05,269.58 633.42,270.90 634.80,272.22 636.17,273.52 637.54,274.83 638.91,276.12 640.27,277.42 641.64,278.70 642.99,279.98 644.35,281.26 645.70,282.53 647.05,283.79 648.40,285.05 649.75,286.31 651.09,287.56 652.43,288.80 653.76,290.04 655.10,291.27 656.43,292.50 657.76,293.73 659.08,294.95 660.41,296.16" fill="none" stroke="#D2B48C" stroke-width="0.62" />
<polyline points="521.89,100.36 523.20,101.98 524.49,103.58 525.79,105.18 527.08,106.77 528.37,108.35 529.66,109.92 530.94,111.49 532.23,113.04 533.51,114.59 534.78,116.13 536.05,117.67 537.33,119.19 538.59,120.71 539.86,122.22 541.12,123.72 542.38,125.22 543.64,126.71 544.89,128.19 546.14,129.66 547.39,131.13 548.64,132.59 549.88,134.04 551.13,135.48 552.37,136.92 553.60,138.35 554.84,139.78 556.07,141.20 557.30,142.61 558.52,144.01 559.75,145.41 560.97,146.81 562.19,148.19 563.40,149.57 564.62,150.94 565.83,152.31 567.04,153.67 568.24,155.03 569.45,156.38 570.65,157.72 571.85,159.06 573.05,160.39 574.24,161.71 575.44,163.03 576.63,164.34 577.81,165.65 579.00,166.96 580.18,168.25 581.36,169.54 582.54,170.83 583.72,172.11 584.89,173.38 586.07,174.65 587.24,175.92 588.40,177.18 589.57,178.43 590.73,179.68 591.89,180.92 593.05,182.16 594.21,183.40 595.36,184.62 596.52,185.85 597.67,187.07 598.82,188.28 599.96,189.49 601.11,190.69 602.25,191.89 603.39,193.09 604.53,194.28 605.66,195.46 606.79,196.64 607.93,197.82 609.06,198.99 610.18,200.16 611.31,201.32 612.43,202.48 613.55,203.63 614.67,204.78 615.79,205.92 616.91,207.06 618.02,208.20 619.13,209.33 620.24,210.46 621.35,211.58 622.46,212.70 623.56,213.82 624.66,214.93 625.76,216.04 626.86,217.14 627.96,218.24 629.05,219.33 630.14,220.42 631.24,221.51 632.32,222.60 633.41,223.67 634.50,224.75 635.58,225.82 636.66,226.89 637.74,227.95 638.82,229.02 639.90,230.07 640.97,231.13 642.04,232.18 643.11,233.22 644.18,234.26 645.25,235.30 646.32,236.34 647.38,237.37 648.44,238.40 649.50,239.42 650.56,240.44 651.62,241.46 652.67,242.48 653.73,243.49 654.78,244.49 655.83,245.50 656.88,246.50 657.92,247.50 658.97,248.49 660.01,249.48" fill="none" stroke="#D2B48C" stroke-width="0.62" />
<polyline points="564.09,100.36 564.87,101.28 565.65,102.21 566.43,103.12 567.21,104.04 567.98,104.95 568.76,105.86 569.53,106.77 570.31,107.67 571.08,108.58 571.85,109.47 572.62,110.37 573.39,111.26 574.16,112.16 574.93,113.04 575.70,113.93 576.46,114.81 577.23,115.70 577.99,116.57 578.75,117.45 579.52,118.32 580.28,119.19 581.04,120.06 581.80,120.93 582.55,121.79 583.31,122.65 584.07,123.51 584.82,124.37 585.58,125.22 586.33,126.07 587.08,126.92 587.83,127.77 588.59,128.61 589.34,129.45 590.08,130.29 590.83,131.13 591.58,131.96 592.33,132.79 593.07,133.63 593.81,134.45 594.56,135.28 595.30,136.10 596.04,136.92 596.78,137.74 597.52,138.56 598.26,139.37 599.00,140.19 599.74,141.00 600.47,141.80 601.21,142.61 601.94,143.41 602.68,144.22 603.41,145.01 604.14,145.81 604.87,146.61 605.60,147.40 606.33,148.19 607.06,148.98 607.79,149.77 608.51,150.55 609.24,151.34 609.96,152.12 610.69,152.90 611.41,153.67 612.13,154.45 612.85,155.22 613.58,155.99 614.30,156.76 615.01,157.53 615.73,158.29 616.45,159.06 617.17,159.82 617.88,160.58 618.60,161.33 619.31,162.09 620.02,162.84 620.74,163.59 621.45,164.34 622.16,165.09 622.87,165.84 623.58,166.58 624.29,167.33 624.99,168.07 625.70,168.81 626.41,169.54 627.11,170.28 627.82,171.01 628.52,171.74 629.22,172.47 629.93,173.20 630.63,173.93 631.33,174.65 632.03,175.38 632.73,176.10 633.42,176.82 634.12,177.54 634.82,178.25 635.51,178.97 636.21,179.68 636.90,180.39 637.60,181.10 638.29,181.81 638.98,182.51 639.67,183.22 640.36,183.92 641.05,184.62 641.74,185.32 642.43,186.02 643.12,186.72 643.81,187.41 644.49,188.11 645.18,188.80 645.86,189.49 646.55,190.18 647.23,190.86 647.91,191.55 648.59,192.23 649.27,192.92 649.95,193.60 650.63,194.28" fill="none" stroke="#D2B48C" stroke-width="0.62" />
<polyline points="606.28,100.36 606.69,100.82 607.10,101.28 607.51,101.74 607.92,102.21 608.33,102.66 608.73,103.12 609.14,103.58 609.55,104.04 609.95,104.50 610.36,104.95 610.77,105.41 611.17,105.86 611.58,106.32 611.98,106.77 612.39,107.22 612.79,107.67 613.20,108.12 613.60,108.58 614.01,109.03 614.41,109.47 614.81,109.92 615.22,110.37 615.62,110.82 616.02,111.26 616.43,111.71 616.83,112.16 617.23,112.60 617.63,113.04 618.03,113.49 618.43,113.93 618.84,114.37 619.24,114.81 619.64,115.25 620.04,115.70 620.44,116.13 620.84,116.57 621.24,117.01 621.63,117.45 622.03,117.89 622.43,118.32 622.83,118.76 623.23,119.19 623.63,119.63 624.02,120.06 624.42,120.49 624.82,120.93 625.21,121.36 625.61,121.79 626.01,122.22 626.40,122.65 626.80,123.08 627.19,123.51 627.59,123.94 627.98,124.37 628.38,124.79 628.77,125.22 629.17,125.65 629.56,126.07 629.96,126.50 630.35,126.92 630.74,127.34 631.14,127.77 631.53,128.19 631.92,128.61 632.31,129.03 632.71,129.45 633.10,129.87 633.49,130.29 633.88,130.71 634.27,131.13 634.66,131.55 635.05,131.96 635.44,132.38 635.83,132.79 636.22,133.21 636.61,133.63 637.00,134.04 637.39,134.45 637.78,134.87 638.17,135.28 638.56,135.69 638.94,136.10 639.33,136.51 639.72,136.92 640.11,137.33 640.49,137.74 640.88,138.15 641.27,138.56 641.65,138.97 642.04,139.37 642.43,139.78 642.81,140.19 643.20,140.59 643.58,141.00 643.97,141.40 644.35,141.80 644.74,142.21 645.12,142.61 645.50,143.01 645.89,143.41 646.27,143.81 646.65,144.22 647.04,144.62 647.42,145.01 647.80,145.41 648.19,145.81 648.57,146.21 648.95,146.61 649.33,147.00 649.71,147.40 650.09,147.80 650.47,148.19 650.86,148.59 651.24,148.98 651.62,149.37 652.00,149.77 652.38,150.16 652.76,150.55 653.13,150.94" fill="none" stroke="#D2B48C" stroke-width="0.62" />
<polyline points="622.49,71.50 622.72,71.75 622.94,72.01 623.16,72.26 623.39,72.52 623.61,72.77 623.83,73.02 624.05,73.28 624.28,73.53 624.50,73.78 624.72,74.03 624.94,74.29 625.17,74.54 625.39,74.79 625.61,75.04 625.83,75.29 626.05,75.54 626.27,75.80 626.50,76.05 626.72,76.30 626.94,76.55 627.16,76.80 627.38,77.05 627.60,77.30 627.82,77.55 628.05,77.80 628.27,78.04 628.49,78.29 628.71,78.54 628.93,78.79 629.15,79.04 629.37,79.29 629.59,79.54 629.81,79.78 630.03,80.03 630.25,80.28 630.47,80.52 630.69,80.77 630.91,81.02 631.13,81.26 631.35,81.51 631.57,81.76 631.79,82.00 632.01,82.25 632.23,82.49 632.45,82.74 632.67,82.98 632.89,83.23 633.11,83.47 633.33,83.72 633.55,83.96 633.77,84.21 633.98,84.45 634.20,84.69 634.42,84.94 634.64,85.18 634.86,85.42 635.08,85.67 635.30,85.91 635.51,86.15 635.73,86.39 635.95,86.64 636.17,86.88 636.39,87.12 636.61,87.36 636.82,87.60 637.04,87.84 637.26,88.09 637.48,88.33 637.69,88.57 637.91,88.81 638.13,89.05 638.35,89.29 638.56,89.53 638.78,89.77 639.00,90.01 639.22,90.25 639.43,90.49 639.65,90.72 639.87,90.96 640.08,91.20 640.30,91.44 640.52,91.68 640.73,91.92 640.95,92.15 641.17,92.39 641.38,92.63 641.60,92.87 641.81,93.10 642.03,93.34 642.25,93.58 642.46,93.81 642.68,94.05 642.89,94.29 643.11,94.52 643.33,94.76 643.54,94.99 643.76,95.23 643.97,95.46 644.19,95.70 644.40,95.93 644.62,96.17 644.83,96.40 645.05,96.64 645.26,96.87 645.48,97.10 645.69,97.34 645.91,97.57 646.12,97.80 646.34,98.04 646.55,98.27 646.76,98.50 646.98,98.74 647.19,98.97 647.41,99.20 647.62,99.43 647.84,99.67 648.05,99.90 648.26,100.13 648.48,100.36" fill="none" stroke="#D2B48C" stroke-width="0.62" />
<polyline points="636.94,783.50 636.85,780.60 636.77,777.68 636.69,774.72 636.62,771.74 636.56,768.73 636.50,765.68 636.45,762.61 636.40,759.50 636.36,756.37 636.32,753.19 636.29,749.99 636.28,746.75 636.26,743.48 636.25,740.17 636.24,736.82 636.23,733.44 636.23,730.02 636.24,726.56 636.25,723.06 636.26,719.52 636.28,715.93 636.29,712.31 636.32,708.64 636.34,704.92 636.37,701.16 636.40,697.35 636.43,693.49 636.46,689.58 636.49,685.63 636.52,681.62 636.54,677.55 636.57,673.43 636.63,669.25 636.66,665.02 636.68,660.72 636.70,656.37 636.75,651.95 636.81,647.46 636.88,642.91 636.94,638.28 637.02,633.59 637.09,628.82 637.17,623.98 637.25,619.05 637.33,614.05 637.41,608.96 637.49,603.78 637.56,598.52 637.63,593.16 637.70,587.70 637.72,582.14 637.75,576.48 637.78,570.72 637.78,564.84 637.77,558.84 637.74,552.72 637.68,546.48 637.59,540.10 637.47,533.59 637.30,526.94 637.10,520.13 636.84,513.17 636.52,506.05 636.14,498.75 635.69,491.27 635.15,483.61 634.51,475.74 633.77,467.67 632.95,459.37 631.96,450.84 630.68,442.06 629.41,433.02 627.87,423.70 626.10,414.09 624.08,404.16 621.77,393.90 619.13,383.27 616.12,372.26 612.68,360.83 608.80,348.95 604.37,336.59 599.35,323.71" fill="none" stroke="#00FF00" stroke-width="0.36" />
<text x="599.95" y="323.21" fill="#00FF00" font-size="16.4" text-anchor="middle" >32</text>
<polyline points="605.88,783.50 605.66,780.60 605.44,777.68 605.23,774.72 605.03,771.74 604.83,768.73 604.63,765.68 604.44,762.61 604.25,759.50 604.07,756.37 603.88,753.19 603.69,749.99 603.54,746.75 603.37,743.48 603.20,740.17 603.03,736.82 602.87,733.44 602.70,730.02 602.54,726.56 602.37,723.06 602.20,719.52 602.04,715.93 601.87,712.31 601.69,708.64 601.51,704.92 601.33,701.16 601.14,697.35 600.98,693.49 600.82,689.58 600.66,685.63 600.50,681.62 600.38,677.55 600.23,673.43 600.07,669.25 599.91,665.02 599.75,660.72 599.58,656.37 599.41,651.95 599.23,647.46 599.04,642.91 598.84,638.28 598.63,633.59 598.40,628.82 598.16,623.98 597.90,619.05 597.62,614.05 597.32,608.96 596.99,603.78 596.64,598.52 596.25,593.16 595.83,587.70 595.37,582.14 594.87,576.48 594.28,570.72 593.67,564.84 593.01,558.84 592.28,552.72 591.48,546.48 590.61,540.10 589.65,533.59 588.60,526.94 587.50,520.13 586.23,513.17 584.83,506.05 583.29,498.75 581.57,491.27 579.75,483.61 577.72,475.74 575.50,467.67 573.07,459.37 570.40,450.84 567.48,442.06 564.28,433.02 560.77,423.70 556.92,414.09 552.70,404.16 548.07,393.90 543.02,383.27 537.50,372.26 531.48,360.83 524.93,348.95 517.82,336.59 510.11,323.71" fill="none" stroke="#00FF00" stroke-width="0.36" />
<text x="510.71" y="323.21" fill="#00FF00" font-size="16.4" text-anchor="middle" >28</text>
<polyline points="574.99,783.50 574.60,780.60 574.22,777.68 573.84,774.72 573.47,771.74 573.10,768.73 572.73,765.68 572.36,762.61 571.99,759.50 571.62,756.37 571.24,753.19 570.89,749.99 570.53,746.75 570.15,743.48 569.78,740.17 569.40,736.82 569.04,733.44 568.69,730.02 568.34,726.56 568.00,723.06 567.65,719.52 567.31,715.93 566.96,712.31 566.61,708.64 566.26,704.92 565.90,701.16 565.54,697.35 565.17,693.49 564.79,689.58 564.40,685.63 564.04,681.62 563.64,677.55 563.23,673.43 562.80,669.25 562.36,665.02 561.90,660.72 561.42,656.37 560.92,651.95 560.39,647.46 559.84,642.91 559.27,638.28 558.65,633.59 558.01,628.82 557.33,623.98 556.61,619.05 555.84,614.05 555.02,608.96 554.16,603.78 553.23,598.52 552.25,593.16 551.19,587.70 550.07,582.14 548.86,576.48 547.57,570.72 546.19,564.84 544.71,558.84 543.12,552.72 541.41,546.48 539.58,540.10 537.59,533.59 535.49,526.94 533.22,520.13 530.79,513.17 528.17,506.05 525.36,498.75 522.34,491.27 519.10,483.61 515.62,475.74 511.88,467.67 507.87,459.37 503.57,450.84 498.96,442.06 494.03,433.02 488.75,423.70 483.14,414.09 477.14,404.16 470.76,393.90 463.96,383.27 456.75,372.26 449.10,360.83 441.01,348.95 432.46,336.59 423.44,323.71" fill="none" stroke="#00FF00" stroke-width="0.36" />
<text x="424.04" y="323.21" fill="#00FF00" font-size="16.4" text-anchor="middle" >24</text>
<polyline points="544.07,783.50 543.55,780.60 543.01,777.68 542.47,774.72 541.92,771.74 541.37,768.73 540.80,765.68 540.24,762.61 539.69,759.50 539.13,756.37 538.57,753.19 538.01,749.99 537.45,746.75 536.92,743.48 536.37,740.17 535.81,736.82 535.26,733.44 534.70,730.02 534.13,726.56 533.56,723.06 532.98,719.52 532.39,715.93 531.80,712.31 531.19,708.64 530.57,704.92 529.94,701.16 529.29,697.35 528.62,693.49 527.94,689.58 527.24,685.63 526.51,681.62 525.75,677.55 525.02,673.43 524.22,669.25 523.39,665.02 522.52,660.72 521.62,656.37 520.69,651.95 519.70,647.46 518.68,642.91 517.60,638.28 516.48,633.59 515.29,628.82 514.05,623.98 512.74,619.05 511.36,614.05 509.91,608.96 508.37,603.78 506.76,598.52 505.05,593.16 503.22,587.70 501.33,582.14 499.32,576.48 497.16,570.72 494.90,564.84 492.50,558.84 489.96,552.72 487.27,546.48 484.42,540.10 481.40,533.59 478.20,526.94 474.82,520.13 471.24,513.17 467.45,506.05 463.44,498.75 459.21,491.27 454.74,483.61 450.02,475.74 445.05,467.67 439.81,459.37 434.30,450.84 428.50,442.06 422.46,433.02 416.08,423.70 409.41,414.09 402.43,404.16 395.13,393.90 387.50,383.27 379.55,372.26 371.27,360.83 362.65,348.95 353.68,336.59 344.36,323.71" fill="none" stroke="#00FF00" stroke-width="0.36" />
<text x="344.96" y="323.21" fill="#00FF00" font-size="16.4" text-anchor="middle" >20</text>
<polyline points="513.02,783.50 512.35,780.60 511.67,777.68 511.00,774.72 510.32,771.74 509.64,768.73 508.95,765.68 508.25,762.61 507.54,759.50 506.82,756.37 506.09,753.19 505.33,749.99 504.61,746.75 503.85,743.48 503.07,740.17 502.24,736.82 501.41,733.44 500.56,730.02 499.69,726.56 498.82,723.06 497.92,719.52 497.01,715.93 496.08,712.31 495.13,708.64 494.16,704.92 493.16,701.16 492.13,697.35 491.08,693.49 489.99,689.58 488.88,685.63 487.72,681.62 486.53,677.55 485.30,673.43 484.03,669.25 482.70,665.02 481.33,660.72 479.91,656.37 478.43,651.95 476.89,647.46 475.29,642.91 473.62,638.28 471.88,633.59 470.06,628.82 468.16,623.98 466.18,619.05 464.10,614.05 461.93,608.96 459.65,603.78 457.27,598.52 454.78,593.16 452.17,587.70 449.44,582.14 446.58,576.48 443.58,570.72 440.44,564.84 437.16,558.84 433.72,552.72 430.12,546.48 426.35,540.10 422.41,533.59 418.29,526.94 413.99,520.13 409.50,513.17 404.82,506.05 399.93,498.75 394.84,491.27 389.55,483.61 384.04,475.74 378.31,467.67 372.36,459.37 366.19,450.84 359.80,442.06 353.17,433.02 346.30,423.70 339.26,414.09 331.93,404.16 324.35,393.90 316.53,383.27 308.46,372.26 300.13,360.83 291.55,348.95 282.71,336.59 273.62,323.71" fill="none" stroke="#00FF00" stroke-width="0.36" />
<text x="274.22" y="323.21" fill="#00FF00" font-size="16.4" text-anchor="middle" >16</text>
<polyline points="482.30,783.50 481.44,780.60 480.57,777.68 479.69,774.72 478.80,771.74 477.91,768.73 477.00,765.68 476.07,762.61 475.13,759.50 474.17,756.37 473.19,753.19 472.23,749.99 471.22,746.75 470.20,743.48 469.15,740.17 468.08,736.82 466.98,733.44 465.86,730.02 464.71,726.56 463.53,723.06 462.31,719.52 461.06,715.93 459.78,712.31 458.46,708.64 457.09,704.92 455.67,701.16 454.19,697.35 452.66,693.49 451.10,689.58 449.48,685.63 447.82,681.62 446.11,677.55 444.35,673.43 442.53,669.25 440.64,665.02 438.70,660.72 436.68,656.37 434.60,651.95 432.44,647.46 430.20,642.91 427.87,638.28 425.46,633.59 422.99,628.82 420.41,623.98 417.73,619.05 414.95,614.05 412.06,608.96 409.07,603.78 405.96,598.52 402.74,593.16 399.39,587.70 395.93,582.14 392.33,576.48 388.60,570.72 384.74,564.84 380.73,558.84 376.59,552.72 372.29,546.48 367.85,540.10 363.26,533.59 358.52,526.94 353.61,520.13 348.55,513.17 343.33,506.05 337.94,498.75 332.39,491.27 326.66,483.61 320.77,475.74 314.71,467.67 308.48,459.37 302.06,450.84 295.48,442.06 288.71,433.02 281.76,423.70 274.63,414.09 267.31,404.16 259.80,393.90 252.11,383.27 244.23,372.26 236.16,360.83 227.89,348.95 219.43,336.59 210.78,323.71" fill="none" stroke="#00FF00" stroke-width="0.36" />
<text x="211.38" y="323.21" fill="#00FF00" font-size="16.4" text-anchor="middle" >12</text>
<polyline points="451.77,783.50 450.68,780.60 449.58,777.68 448.46,774.72 447.33,771.74 446.18,768.73 445.00,765.68 443.81,762.61 442.59,759.50 441.34,756.37 440.06,753.19 438.80,749.99 437.48,746.75 436.13,743.48 434.75,740.17 433.34,736.82 431.90,733.44 430.42,730.02 428.91,726.56 427.36,723.06 425.76,719.52 424.13,715.93 422.45,712.31 420.72,708.64 418.95,704.92 417.12,701.16 415.25,697.35 413.31,693.49 411.32,689.58 409.27,685.63 407.16,681.62 404.98,677.55 402.73,673.43 400.41,669.25 398.02,665.02 395.55,660.72 393.00,656.37 390.36,651.95 387.65,647.46 384.87,642.91 381.98,638.28 378.98,633.59 375.88,628.82 372.69,623.98 369.40,619.05 366.02,614.05 362.53,608.96 358.95,603.78 355.26,598.52 351.46,593.16 347.55,587.70 343.54,582.14 339.41,576.48 335.16,570.72 330.80,564.84 326.32,558.84 321.72,552.72 317.01,546.48 312.16,540.10 307.20,533.59 302.11,526.94 296.90,520.13 291.55,513.17 286.08,506.05 280.48,498.75 274.75,491.27 268.88,483.61 262.89,475.74 256.75,467.67 250.48,459.37 244.08,450.84 237.53,442.06 230.84,433.02 224.02,423.70 217.04,414.09 209.93,404.16 202.67,393.90 195.26,383.27 187.71,372.26 180.01,360.83 172.16,348.95 164.17,336.59 156.03,323.71" fill="none" stroke="#00FF00" stroke-width="0.36" />
<text x="156.63" y="323.21" fill="#00FF00" font-size="16.4" text-anchor="middle" >8</text>
<text x="664.77" y="159.00" fill="#D4B285" font-size="17.5" text-anchor="middle" transform="rotate(-45.00 664.77 152.70)" >-30</text>
<text x="664.77" y="253.22" fill="#D4B285" font-size="17.5" text-anchor="middle" transform="rotate(-45.00 664.77 246.92)" >-20</text>
<text x="664.77" y="347.44" fill="#D4B285" font-size="17.5" text-anchor="middle" transform="rotate(-45.00 664.77 341.14)" >-10</text>
<text x="664.77" y="441.66" fill="#D4B285" font-size="17.5" text-anchor="middle" transform="rotate(-45.00 664.77 435.36)" >0</text>
<text x="686.00" y="510.67" fill="#D4B285" font-size="17.5" text-anchor="middle" transform="rotate(-45.00 686.00 504.37)" >10</text>
<text x="726.87" y="556.34" fill="#D4B285" font-size="17.5" text-anchor="middle" transform="rotate(-45.00 726.87 550.04)" >20</text>
<text x="768.36" y="601.28" fill="#D4B285" font-size="17.5" text-anchor="middle" transform="rotate(-45.00 768.36 594.98)" >30</text>
<text x="789.05" y="670.93" fill="#D4B285" font-size="17.5" text-anchor="middle" transform="rotate(-45.00 789.05 664.63)" >40</text>
<polyline points="103.50,783.50 103.50,71.50 656.50,71.50 656.50,491.27 781.50,626.41 781.50,783.50 103.50,783.50" fill="none" stroke="#666" stroke-width="1" />
<text x="135.00" y="90.90" fill="#D2B48C" font-size="13.2" text-anchor="middle" transform="rotate(55.00 135.00 86.30)" >50</text>
<text x="176.73" y="90.90" fill="#D2B48C" font-size="13.2" text-anchor="middle" transform="rotate(55.00 176.73 86.30)" >60</text>
<text x="218.46" y="90.90" fill="#D2B48C" font-size="13.2" text-anchor="middle" transform="rotate(55.00 218.46 86.30)" >70</text>
<text x="260.19" y="90.90" fill="#D2B48C" font-size="13.2" text-anchor="middle" transform="rotate(55.00 260.19 86.30)" >80</text>
<text x="301.92" y="90.90" fill="#D2B48C" font-size="13.2" text-anchor="middle" transform="rotate(55.00 301.92 86.30)" >90</text>
<text x="343.65" y="90.90" fill="#D2B48C" font-size="13.2" text-anchor="middle" transform="rotate(55.00 343.65 86.30)" >100</text>
<text x="385.38" y="90.90" fill="#D2B48C" font-size="13.2" text-anchor="middle" transform="rotate(55.00 385.38 86.30)" >110</text>
<text x="427.11" y="90.90" fill="#D2B48C" font-size="13.2" text-anchor="middle" transform="rotate(55.00 427.11 86.30)" >120</text>
<text x="468.84" y="90.90" fill="#D2B48C" font-size="13.2" text-anchor="middle" transform="rotate(55.00 468.84 86.30)" >130</text>
<text x="510.57" y="90.90" fill="#D2B48C" font-size="13.2" text-anchor="middle" transform="rotate(55.00 510.57 86.30)" >140</text>
<text x="552.30" y="90.90" fill="#D2B48C" font-size="13.2" text-anchor="middle" transform="rotate(55.00 552.30 86.30)" >150</text>
<text x="594.03" y="90.90" fill="#D2B48C" font-size="13.2" text-anchor="middle" transform="rotate(55.00 594.03 86.30)" >160</text>
<text x="115.60" y="141.50" fill="#D2B48C" font-size="13.2" text-anchor="middle" transform="rotate(55.00 115.60 136.90)" >40</text>
<text x="114.70" y="233.20" fill="#D2B48C" font-size="13.2" text-anchor="middle" transform="rotate(55.00 114.70 228.60)" >30</text>
<text x="114.40" y="321.80" fill="#D2B48C" font-size="13.2" text-anchor="middle" transform="rotate(55.00 114.40 317.20)" >20</text>
<text x="112.50" y="404.60" fill="#D2B48C" font-size="13.2" text-anchor="middle" transform="rotate(55.00 112.50 400.00)" >10</text>
<text x="112.00" y="490.60" fill="#D2B48C" font-size="13.2" text-anchor="middle" transform="rotate(55.00 112.00 486.00)" >0</text>
<text x="113.00" y="574.60" fill="#D2B48C" font-size="13.2" text-anchor="middle" transform="rotate(55.00 113.00 570.00)" >-10</text>
<text x="110.50" y="654.40" fill="#D2B48C" font-size="13.2" text-anchor="middle" transform="rotate(55.00 110.50 649.80)" >-20</text>
<text x="109.40" y="735.90" fill="#D2B48C" font-size="13.2" text-anchor="middle" transform="rotate(55.00 109.40 731.30)" >-30</text>
<text x="575.97" y="780.10" fill="#00FF00" font-size="13.5" text-anchor="middle" transform="rotate(-55.00 575.97 775.40)" >20</text>
<text x="511.69" y="780.10" fill="#00FF00" font-size="13.5" text-anchor="middle" transform="rotate(-55.00 511.69 775.40)" >12</text>
<text x="462.98" y="780.10" fill="#00FF00" font-size="13.5" text-anchor="middle" transform="rotate(-55.00 462.98 775.40)" >8</text>
<text x="409.07" y="780.10" fill="#00FF00" font-size="13.5" text-anchor="middle" transform="rotate(-55.00 409.07 775.40)" >5</text>
<text x="353.51" y="780.10" fill="#00FF00" font-size="13.5" text-anchor="middle" transform="rotate(-55.00 353.51 775.40)" >3</text>
<text x="311.53" y="780.10" fill="#00FF00" font-size="13.5" text-anchor="middle" transform="rotate(-55.00 311.53 775.40)" >2</text>
<text x="243.84" y="780.10" fill="#00FF00" font-size="13.5" text-anchor="middle" transform="rotate(-55.00 243.84 775.40)" >1</text>
<text x="90.50" y="775.17" fill="#000" font-size="18.0" text-anchor="end" >1000</text>
<line x1="102.60" y1="769.00" x2="104.40" y2="769.00" stroke="#222" stroke-width="1" />
<text x="90.50" y="725.96" fill="#000" font-size="18.0" text-anchor="end" >850</text>
<line x1="102.60" y1="719.50" x2="104.40" y2="719.50" stroke="#222" stroke-width="1" />
<text x="90.50" y="667.17" fill="#000" font-size="18.0" text-anchor="end" >700</text>
<line x1="102.60" y1="660.50" x2="104.40" y2="660.50" stroke="#222" stroke-width="1" />
<text x="90.50" y="565.28" fill="#000" font-size="18.0" text-anchor="end" >500</text>
<line x1="102.60" y1="558.50" x2="104.40" y2="558.50" stroke="#222" stroke-width="1" />
<text x="90.50" y="497.72" fill="#000" font-size="18.0" text-anchor="end" >400</text>
<line x1="102.60" y1="491.50" x2="104.40" y2="491.50" stroke="#222" stroke-width="1" />
<text x="90.50" y="410.61" fill="#000" font-size="18.0" text-anchor="end" >300</text>
<line x1="102.60" y1="404.50" x2="104.40" y2="404.50" stroke="#222" stroke-width="1" />
<text x="90.50" y="355.40" fill="#000" font-size="18.0" text-anchor="end" >250</text>
<line x1="102.60" y1="348.50" x2="104.40" y2="348.50" stroke="#222" stroke-width="1" />
<text x="90.50" y="287.83" fill="#000" font-size="18.0" text-anchor="end" >200</text>
<line x1="102.60" y1="281.50" x2="104.40" y2="281.50" stroke="#222" stroke-width="1" />
<text x="90.50" y="200.72" fill="#000" font-size="18.0" text-anchor="end" >150</text>
<line x1="102.60" y1="194.50" x2="104.40" y2="194.50" stroke="#222" stroke-width="1" />
<text x="90.50" y="77.94" fill="#000" font-size="18.0" text-anchor="end" >100</text>
<line x1="102.60" y1="71.50" x2="104.40" y2="71.50" stroke="#222" stroke-width="1" />
<line x1="141.05" y1="783.50" x2="141.05" y2="793.00" stroke="#777" stroke-width="1.2" />
<text x="140.95" y="819.70" fill="#000" font-size="18.0" text-anchor="middle" >-20</text>
<line x1="229.30" y1="783.50" x2="229.30" y2="793.00" stroke="#777" stroke-width="1.2" />
<text x="229.20" y="819.70" fill="#000" font-size="18.0" text-anchor="middle" >0</text>
<line x1="317.55" y1="783.50" x2="317.55" y2="793.00" stroke="#777" stroke-width="1.2" />
<text x="317.45" y="819.70" fill="#000" font-size="18.0" text-anchor="middle" >20</text>
<line x1="405.55" y1="783.50" x2="405.55" y2="793.00" stroke="#777" stroke-width="1.2" />
<text x="405.45" y="819.70" fill="#000" font-size="18.0" text-anchor="middle" >40</text>
<line x1="493.30" y1="783.50" x2="493.30" y2="793.00" stroke="#777" stroke-width="1.2" />
<text x="493.20" y="819.70" fill="#000" font-size="18.0" text-anchor="middle" >60</text>
<line x1="582.05" y1="783.50" x2="582.05" y2="793.00" stroke="#777" stroke-width="1.2" />
<text x="581.95" y="819.70" fill="#000" font-size="18.0" text-anchor="middle" >80</text>
<line x1="670.30" y1="783.50" x2="670.30" y2="793.00" stroke="#777" stroke-width="1.2" />
<text x="670.20" y="819.70" fill="#000" font-size="18.0" text-anchor="middle" >100</text>
<line x1="758.30" y1="783.50" x2="758.30" y2="793.00" stroke="#777" stroke-width="1.2" />
<text x="758.20" y="819.70" fill="#000" font-size="18.0" text-anchor="middle" >120</text>
<text x="460.00" y="842.00" fill="#000" font-size="16.65" text-anchor="middle" >Temperature (F)</text>
<text x="57.20" y="446.70" fill="#000" font-size="16.1" text-anchor="middle" transform="rotate(-90.00 57.20 446.70)" >P (hPa)</text>
<line x1="815.80" y1="71.00" x2="815.80" y2="783.80" stroke="#666" stroke-width="1.9" />
<line x1="815.80" y1="81.30" x2="825.60" y2="81.30" stroke="#6e6e6e" stroke-width="1" />
<text x="838.30" y="87.54" fill="#000" font-size="18.0" text-anchor="start" >16</text>
<line x1="815.80" y1="128.30" x2="825.60" y2="128.30" stroke="#6e6e6e" stroke-width="1" />
<text x="838.30" y="134.54" fill="#000" font-size="18.0" text-anchor="start" >15</text>
<line x1="815.80" y1="176.30" x2="825.60" y2="176.30" stroke="#6e6e6e" stroke-width="1" />
<text x="838.30" y="182.54" fill="#000" font-size="18.0" text-anchor="start" >14</text>
<line x1="815.80" y1="222.80" x2="825.60" y2="222.80" stroke="#6e6e6e" stroke-width="1" />
<text x="838.30" y="229.04" fill="#000" font-size="18.0" text-anchor="start" >13</text>
<line x1="815.80" y1="271.55" x2="825.60" y2="271.55" stroke="#6e6e6e" stroke-width="1" />
<text x="838.30" y="277.79" fill="#000" font-size="18.0" text-anchor="start" >12</text>
<line x1="815.80" y1="318.30" x2="825.60" y2="318.30" stroke="#6e6e6e" stroke-width="1" />
<text x="838.30" y="324.54" fill="#000" font-size="18.0" text-anchor="start" >11</text>
<line x1="815.80" y1="365.30" x2="825.60" y2="365.30" stroke="#6e6e6e" stroke-width="1" />
<text x="838.30" y="371.54" fill="#000" font-size="18.0" text-anchor="start" >10</text>
<line x1="815.80" y1="411.05" x2="825.60" y2="411.05" stroke="#6e6e6e" stroke-width="1" />
<text x="838.30" y="417.29" fill="#000" font-size="18.0" text-anchor="start" >9</text>
<line x1="815.80" y1="455.30" x2="825.60" y2="455.30" stroke="#6e6e6e" stroke-width="1" />
<text x="838.30" y="461.54" fill="#000" font-size="18.0" text-anchor="start" >8</text>
<line x1="815.80" y1="499.30" x2="825.60" y2="499.30" stroke="#6e6e6e" stroke-width="1" />
<text x="838.30" y="505.54" fill="#000" font-size="18.0" text-anchor="start" >7</text>
<line x1="815.80" y1="541.55" x2="825.60" y2="541.55" stroke="#6e6e6e" stroke-width="1" />
<text x="838.30" y="547.79" fill="#000" font-size="18.0" text-anchor="start" >6</text>
<line x1="815.80" y1="582.55" x2="825.60" y2="582.55" stroke="#6e6e6e" stroke-width="1" />
<text x="838.30" y="588.79" fill="#000" font-size="18.0" text-anchor="start" >5</text>
<line x1="815.80" y1="622.30" x2="825.60" y2="622.30" stroke="#6e6e6e" stroke-width="1" />
<text x="838.30" y="628.54" fill="#000" font-size="18.0" text-anchor="start" >4</text>
<line x1="815.80" y1="661.30" x2="825.60" y2="661.30" stroke="#6e6e6e" stroke-width="1" />
<text x="838.30" y="667.54" fill="#000" font-size="18.0" text-anchor="start" >3</text>
<line x1="815.80" y1="698.80" x2="825.60" y2="698.80" stroke="#6e6e6e" stroke-width="1" />
<text x="838.30" y="705.04" fill="#000" font-size="18.0" text-anchor="start" >2</text>
<line x1="815.80" y1="736.30" x2="825.60" y2="736.30" stroke="#6e6e6e" stroke-width="1" />
<text x="838.30" y="742.54" fill="#000" font-size="18.0" text-anchor="start" >1</text>
<line x1="815.80" y1="773.30" x2="825.60" y2="773.30" stroke="#6e6e6e" stroke-width="1" />
<text x="838.30" y="779.54" fill="#000" font-size="18.0" text-anchor="start" >0</text>
<text x="795.00" y="450.60" fill="#000" font-size="17.9" text-anchor="middle" transform="rotate(90.00 795.00 450.60)" >Height (Km)</text>
<text x="364.40" y="39.60" fill="#000" font-size="19.6" text-anchor="middle" >Skew-T at Phoenix (KPSR) valid 2025-12-09 08:30PM MST</text>
<text fill="#A0522D" font-size="15.7"><tspan x="48.0" y="59.7">P</tspan><tspan x="59.0" y="63.0" font-size="11" textLength="17.2" lengthAdjust="spacingAndGlyphs">LCL</tspan><tspan x="76.1" y="59.7">=645 mb || T</tspan><tspan x="165.0" y="63.0" font-size="11" textLength="17.2" lengthAdjust="spacingAndGlyphs">LCL</tspan><tspan x="182.7" y="59.7">=-11</tspan><tspan x="213.7" y="51.9" font-size="10">o</tspan><tspan x="219.0" y="59.7" textLength="465.4" lengthAdjust="spacing">C || PW=9 mm || CAPE=0 J || MCAPE=9.96921e+36 WBZ= -999 m</tspan></text>
<polyline points="331.50,71.50 262.10,154.30 224.60,221.50 218.30,277.20 187.50,363.00 190.70,399.40 237.30,435.60 274.40,473.40 313.70,505.80 348.40,532.30 371.00,554.40 382.70,573.70 386.00,590.30 383.20,605.60 375.30,618.70 355.60,639.40 345.50,651.10 337.90,663.80 334.20,672.20 333.70,680.60 346.80,696.60 345.80,703.30 341.20,711.80 339.60,719.30 339.60,730.30 332.50,741.20 336.20,747.90 341.20,753.80 339.60,755.20 340.40,758.90 345.10,759.70" fill="none" stroke="#4169E1" stroke-width="1.8" stroke-linejoin="round"/>
<polyline points="427.10,71.50 346.90,154.00 314.70,221.40 308.60,277.40 316.40,323.20 334.75,363.00 359.00,399.25 387.25,435.50 421.00,474.25 448.50,507.25 468.50,532.90 484.00,554.90 499.40,580.30 511.00,600.50 524.50,623.50 531.70,640.00 535.30,650.30 537.60,660.60 539.00,670.90 540.50,679.80 543.40,688.60 548.60,696.70 554.50,705.50 558.20,712.90 559.40,717.30 558.20,723.20 557.10,730.10 561.90,738.70 565.50,746.80 566.00,751.90 561.10,756.30 556.00,758.10 548.60,759.00 539.80,759.40 518.40,759.90" fill="none" stroke="#000" stroke-width="1.8" stroke-linejoin="round"/>
<clipPath id="pc"><rect x="0" y="71.25" width="1024" height="720"/></clipPath>
<line x1="736.50" y1="71.50" x2="736.50" y2="772.70" stroke="#666" stroke-width="0.7" />
<circle cx="736.5" cy="768.73" r="3.4" fill="none" stroke="#1c1c1c" stroke-width="0.8" clip-path="url(#pc)"/>
<circle cx="736.5" cy="719.52" r="3.4" fill="none" stroke="#1c1c1c" stroke-width="0.8" clip-path="url(#pc)"/>
<circle cx="736.5" cy="660.72" r="3.4" fill="none" stroke="#1c1c1c" stroke-width="0.8" clip-path="url(#pc)"/>
<circle cx="736.5" cy="558.84" r="3.4" fill="none" stroke="#1c1c1c" stroke-width="0.8" clip-path="url(#pc)"/>
<circle cx="736.5" cy="491.27" r="3.4" fill="none" stroke="#1c1c1c" stroke-width="0.8" clip-path="url(#pc)"/>
<circle cx="736.5" cy="404.16" r="3.4" fill="none" stroke="#1c1c1c" stroke-width="0.8" clip-path="url(#pc)"/>
<circle cx="736.5" cy="348.95" r="3.4" fill="none" stroke="#1c1c1c" stroke-width="0.8" clip-path="url(#pc)"/>
<circle cx="736.5" cy="281.39" r="3.4" fill="none" stroke="#1c1c1c" stroke-width="0.8" clip-path="url(#pc)"/>
<circle cx="736.5" cy="194.28" r="3.4" fill="none" stroke="#1c1c1c" stroke-width="0.8" clip-path="url(#pc)"/>
<circle cx="736.5" cy="71.50" r="3.4" fill="none" stroke="#1c1c1c" stroke-width="0.8" clip-path="url(#pc)"/>
<circle cx="736.5" cy="772.7" r="1.9" fill="#000"/>
<circle cx="736.5" cy="762" r="1.9" fill="#000"/>
<circle cx="736.5" cy="750.8" r="1.9" fill="#000"/>
<circle cx="736.5" cy="739.7" r="1.9" fill="#000"/>
<circle cx="736.5" cy="728.3" r="1.9" fill="#000"/>
<circle cx="736.5" cy="717.1" r="1.9" fill="#000"/>
<circle cx="736.5" cy="705.9" r="1.9" fill="#000"/>
<circle cx="736.5" cy="694.4" r="1.9" fill="#000"/>
<circle cx="736.5" cy="682.8" r="1.9" fill="#000"/>
<circle cx="736.5" cy="671.2" r="1.9" fill="#000"/>
<circle cx="736.5" cy="659.3" r="1.9" fill="#000"/>
<circle cx="736.5" cy="635.6" r="1.9" fill="#000"/>
<circle cx="736.5" cy="611.5" r="1.9" fill="#000"/>
<circle cx="736.5" cy="587.3" r="1.9" fill="#000"/>
<circle cx="736.5" cy="562.4" r="1.9" fill="#000"/>
<circle cx="736.5" cy="537.2" r="1.9" fill="#000"/>
<circle cx="736.5" cy="472.4" r="1.9" fill="#000"/>
<circle cx="736.5" cy="404.4" r="1.9" fill="#000"/>
<circle cx="736.5" cy="334.3" r="1.9" fill="#000"/>
<circle cx="736.5" cy="262.7" r="1.9" fill="#000"/>
<circle cx="736.5" cy="189.3" r="1.9" fill="#000"/>
<circle cx="736.5" cy="117.1" r="1.9" fill="#000"/>
<polyline points="736.50,154.30 705.50,148.10 701.00,137.00" fill="none" stroke="#1c1c1c" stroke-width="0.75" stroke-linejoin="round"/>
<polyline points="708.70,148.70 704.30,137.70" fill="none" stroke="#1c1c1c" stroke-width="0.75" stroke-linejoin="round"/>
<polyline points="711.90,149.40 709.70,144.00" fill="none" stroke="#1c1c1c" stroke-width="0.75" stroke-linejoin="round"/>
<polyline points="736.50,221.80 704.00,215.90 700.30,205.20" fill="none" stroke="#1c1c1c" stroke-width="0.75" stroke-linejoin="round"/>
<polyline points="736.50,276.60 746.40,245.70 757.50,243.30" fill="none" stroke="#1c1c1c" stroke-width="0.75" stroke-linejoin="round"/>
<polyline points="736.50,323.40 754.80,296.00 765.80,296.90" fill="none" stroke="#1c1c1c" stroke-width="0.75" stroke-linejoin="round"/>
<polyline points="753.10,298.50 758.70,299.50" fill="none" stroke="#1c1c1c" stroke-width="0.75" stroke-linejoin="round"/>
<polyline points="736.50,363.60 753.00,334.70 763.90,335.20" fill="none" stroke="#1c1c1c" stroke-width="0.75" stroke-linejoin="round"/>
<polyline points="736.50,396.30 748.90,368.30 760.00,367.30" fill="none" stroke="#1c1c1c" stroke-width="0.75" stroke-linejoin="round"/>
<polyline points="736.50,435.60 749.90,405.40 761.10,404.20" fill="none" stroke="#1c1c1c" stroke-width="0.75" stroke-linejoin="round"/>
<polyline points="736.50,472.40 749.60,442.70 761.00,441.90" fill="none" stroke="#1c1c1c" stroke-width="0.75" stroke-linejoin="round"/>
<polyline points="748.40,445.60 754.20,445.10" fill="none" stroke="#1c1c1c" stroke-width="0.75" stroke-linejoin="round"/>
<polyline points="736.50,505.50 748.50,475.30 760.00,473.90" fill="none" stroke="#1c1c1c" stroke-width="0.75" stroke-linejoin="round"/>
<polyline points="747.30,478.40 753.20,477.60" fill="none" stroke="#1c1c1c" stroke-width="0.75" stroke-linejoin="round"/>
<polyline points="736.50,533.50 747.40,501.10 758.90,499.20" fill="none" stroke="#1c1c1c" stroke-width="0.75" stroke-linejoin="round"/>
<polyline points="746.40,504.30 752.50,503.20" fill="none" stroke="#1c1c1c" stroke-width="0.75" stroke-linejoin="round"/>
<polyline points="736.50,554.50 746.40,523.50 757.70,521.00" fill="none" stroke="#1c1c1c" stroke-width="0.75" stroke-linejoin="round"/>
<polyline points="745.50,526.60 751.30,525.30" fill="none" stroke="#1c1c1c" stroke-width="0.75" stroke-linejoin="round"/>
<polyline points="736.50,573.00 745.50,541.90 757.00,539.70" fill="none" stroke="#1c1c1c" stroke-width="0.75" stroke-linejoin="round"/>
<polyline points="744.60,545.00 750.40,543.80" fill="none" stroke="#1c1c1c" stroke-width="0.75" stroke-linejoin="round"/>
<polyline points="736.50,589.50 745.20,558.60 756.70,556.30" fill="none" stroke="#1c1c1c" stroke-width="0.75" stroke-linejoin="round"/>
<polyline points="744.30,561.70 750.10,560.50" fill="none" stroke="#1c1c1c" stroke-width="0.75" stroke-linejoin="round"/>
<polyline points="736.50,604.50 744.50,573.50 755.60,570.80" fill="none" stroke="#1c1c1c" stroke-width="0.75" stroke-linejoin="round"/>
<polyline points="743.70,576.60 749.60,575.20" fill="none" stroke="#1c1c1c" stroke-width="0.75" stroke-linejoin="round"/>
<polyline points="736.50,618.00 743.80,586.90 754.80,583.60" fill="none" stroke="#1c1c1c" stroke-width="0.75" stroke-linejoin="round"/>
<polyline points="743.00,590.00 748.50,588.30" fill="none" stroke="#1c1c1c" stroke-width="0.75" stroke-linejoin="round"/>
<polyline points="736.50,630.00 742.40,598.30 752.40,595.70" fill="none" stroke="#1c1c1c" stroke-width="0.75" stroke-linejoin="round"/>
<polyline points="741.80,601.40 747.50,599.90" fill="none" stroke="#1c1c1c" stroke-width="0.75" stroke-linejoin="round"/>
<polyline points="736.50,641.00 741.80,609.20 752.40,606.20" fill="none" stroke="#1c1c1c" stroke-width="0.75" stroke-linejoin="round"/>
<polyline points="741.20,612.40 747.00,610.90" fill="none" stroke="#1c1c1c" stroke-width="0.75" stroke-linejoin="round"/>
<polyline points="736.50,652.00 740.60,620.00 751.50,616.20" fill="none" stroke="#1c1c1c" stroke-width="0.75" stroke-linejoin="round"/>
<polyline points="740.10,623.10 745.90,621.20" fill="none" stroke="#1c1c1c" stroke-width="0.75" stroke-linejoin="round"/>
<polyline points="736.50,661.50 740.00,629.50 750.40,625.40" fill="none" stroke="#1c1c1c" stroke-width="0.75" stroke-linejoin="round"/>
<polyline points="736.50,670.50 740.00,638.70 750.90,635.00" fill="none" stroke="#1c1c1c" stroke-width="0.75" stroke-linejoin="round"/>
<polyline points="736.50,679.50 744.50,648.30 755.10,645.70" fill="none" stroke="#1c1c1c" stroke-width="0.75" stroke-linejoin="round"/>
<polyline points="736.50,688.90 754.40,661.20" fill="none" stroke="#1c1c1c" stroke-width="0.75" stroke-linejoin="round"/>
<polyline points="752.90,663.50 758.60,664.50" fill="none" stroke="#1c1c1c" stroke-width="0.75" stroke-linejoin="round"/>
<polyline points="736.50,696.50 761.50,674.40" fill="none" stroke="#1c1c1c" stroke-width="0.75" stroke-linejoin="round"/>
<polyline points="759.60,676.10 764.60,678.50" fill="none" stroke="#1c1c1c" stroke-width="0.75" stroke-linejoin="round"/>
<polyline points="736.50,703.50 761.30,682.00" fill="none" stroke="#1c1c1c" stroke-width="0.75" stroke-linejoin="round"/>
<polyline points="759.20,683.80 764.40,685.50" fill="none" stroke="#1c1c1c" stroke-width="0.75" stroke-linejoin="round"/>
<polyline points="736.50,710.60 760.00,684.10 770.00,688.90" fill="none" stroke="#1c1c1c" stroke-width="0.75" stroke-linejoin="round"/>
<polyline points="736.50,715.40 758.30,687.10 767.50,691.20" fill="none" stroke="#1c1c1c" stroke-width="0.75" stroke-linejoin="round"/>
<polyline points="736.50,721.20 756.00,690.60 766.50,693.00" fill="none" stroke="#1c1c1c" stroke-width="0.75" stroke-linejoin="round"/>
<polyline points="736.50,726.00 754.20,696.20 765.40,696.50" fill="none" stroke="#1c1c1c" stroke-width="0.75" stroke-linejoin="round"/>
<polyline points="736.50,733.00 753.60,704.80" fill="none" stroke="#1c1c1c" stroke-width="0.75" stroke-linejoin="round"/>
<polyline points="752.00,707.10 758.50,705.50" fill="none" stroke="#1c1c1c" stroke-width="0.75" stroke-linejoin="round"/>
<polyline points="736.50,758.70 757.40,734.50" fill="none" stroke="#1c1c1c" stroke-width="0.75" stroke-linejoin="round"/>
<polyline points="755.70,736.50 761.50,738.00" fill="none" stroke="#1c1c1c" stroke-width="0.75" stroke-linejoin="round"/>
<polyline points="736.50,741.30 723.60,711.60" fill="none" stroke="#1c1c1c" stroke-width="0.75" stroke-linejoin="round"/>
<polyline points="724.80,714.30 727.90,709.80" fill="none" stroke="#1c1c1c" stroke-width="0.75" stroke-linejoin="round"/>
<polyline points="736.50,749.50 715.30,722.10" fill="none" stroke="#1c1c1c" stroke-width="0.75" stroke-linejoin="round"/>
<polyline points="717.10,724.40 718.90,719.30" fill="none" stroke="#1c1c1c" stroke-width="0.75" stroke-linejoin="round"/>
<polyline points="736.50,753.00 718.30,730.10" fill="none" stroke="#1c1c1c" stroke-width="0.75" stroke-linejoin="round"/>
<polyline points="736.50,755.40 709.40,732.50" fill="none" stroke="#1c1c1c" stroke-width="0.75" stroke-linejoin="round"/>
<polyline points="712.00,734.70 712.50,728.90" fill="none" stroke="#1c1c1c" stroke-width="0.75" stroke-linejoin="round"/>
<polyline points="736.50,756.60 708.20,740.10" fill="none" stroke="#1c1c1c" stroke-width="0.75" stroke-linejoin="round"/>
<polyline points="711.00,741.70 711.60,735.80" fill="none" stroke="#1c1c1c" stroke-width="0.75" stroke-linejoin="round"/>
<polyline points="736.50,757.50 704.30,747.00" fill="none" stroke="#1c1c1c" stroke-width="0.75" stroke-linejoin="round"/>
<polyline points="707.20,748.00 706.30,742.50" fill="none" stroke="#1c1c1c" stroke-width="0.75" stroke-linejoin="round"/>
<polyline points="736.50,758.00 704.80,748.20" fill="none" stroke="#1c1c1c" stroke-width="0.75" stroke-linejoin="round"/>
<polyline points="707.70,749.10 707.00,743.60" fill="none" stroke="#1c1c1c" stroke-width="0.75" stroke-linejoin="round"/>
<polyline points="736.50,758.50 704.10,749.20" fill="none" stroke="#1c1c1c" stroke-width="0.75" stroke-linejoin="round"/>
<polyline points="707.00,750.00 705.60,744.50" fill="none" stroke="#1c1c1c" stroke-width="0.75" stroke-linejoin="round"/>
</svg>
</body></html>
